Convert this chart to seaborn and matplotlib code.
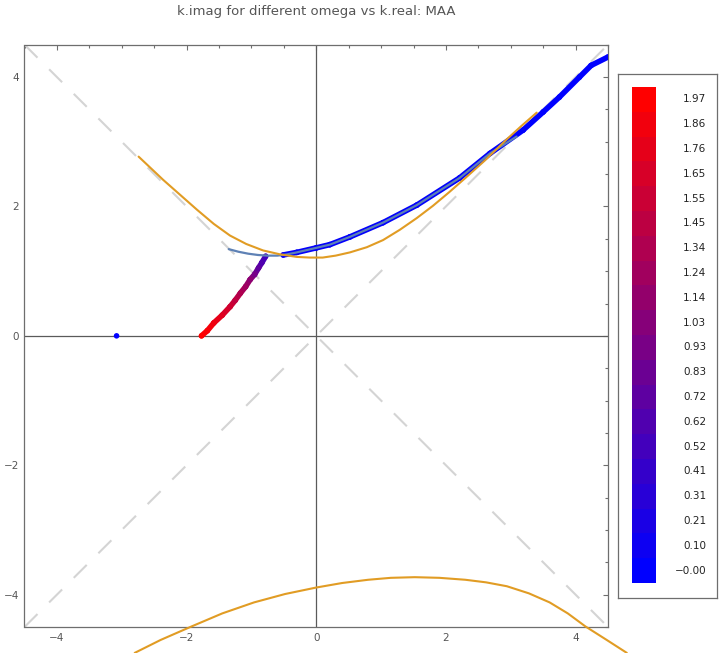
import numpy as np
import pandas as pd
import matplotlib
matplotlib.use("Agg")
import matplotlib.pyplot as plt
import seaborn as sns
from matplotlib.collections import LineCollection
from matplotlib.colors import LinearSegmentedColormap, ListedColormap, Normalize

# ---------------- data ----------------
title = "k.imag for different omega vs k.real: MAA"

# red -> blue branch of solutions (k.real, k.imag, omega)
red_kreal = [-1.77, -1.68, -1.58, -1.45, -1.33, -1.25, -1.17, -1.09, -1.02, -0.95, -0.89, -0.84, -0.78]
red_kimag = [0.00, 0.08, 0.20, 0.32, 0.45, 0.55, 0.66, 0.76, 0.87, 0.95, 1.05, 1.13, 1.23]
red_omega = [1.97, 1.92, 1.85, 1.73, 1.60, 1.48, 1.36, 1.23, 1.10, 0.92, 0.74, 0.62, 0.50]

# blue branch
blue_kreal = [-0.51, -0.30, 0.00, 0.21, 0.52, 1.03, 1.55, 2.21, 2.68, 3.19, 3.50, 3.75, 4.06, 4.24, 4.50]
blue_kimag = [1.25, 1.29, 1.36, 1.41, 1.53, 1.75, 2.02, 2.44, 2.82, 3.18, 3.46, 3.69, 4.00, 4.18, 4.31]
blue_omega = [0.05, 0.04, 0.03, 0.03, 0.02, 0.02, 0.02, 0.01, 0.01, 0.01, 0.0, 0.0, 0.0, 0.0, 0.0]

# isolated solution
iso_kreal = [-3.08]
iso_kimag = [0.00]
iso_omega = [0.0]

# steel-blue reference line
steel_kreal = [-1.35, -1.20, -1.05, -0.90, -0.75, -0.60, -0.45, -0.30, 0.00, 0.21, 0.52, 1.03, 1.55, 2.21, 2.68, 3.09]
steel_kimag = [1.34, 1.30, 1.27, 1.25, 1.24, 1.24, 1.26, 1.29, 1.36, 1.41, 1.53, 1.75, 2.02, 2.44, 2.82, 3.08]

# orange curves
upper_x = [-2.74, -2.55, -2.36, -2.10, -1.84, -1.58, -1.33, -1.08, -0.82, -0.56, -0.30, -0.10,
           0.10, 0.30, 0.52, 0.78, 1.03, 1.29, 1.55, 1.80, 2.05, 2.30, 2.60, 2.93, 3.16, 3.40]
upper_y = [2.77, 2.59, 2.41, 2.18, 1.95, 1.73, 1.55, 1.42, 1.32, 1.26, 1.22, 1.21,
           1.21, 1.24, 1.29, 1.37, 1.48, 1.64, 1.82, 2.01, 2.22, 2.44, 2.71, 3.03, 3.24, 3.45]
lower_x = [-2.80, -2.40, -1.92, -1.45, -0.96, -0.48, 0.00, 0.40, 0.80, 1.15, 1.52, 1.90, 2.30,
           2.62, 2.94, 3.28, 3.60, 3.88, 4.15, 4.48, 4.79]
lower_y = [-4.90, -4.70, -4.49, -4.29, -4.12, -3.99, -3.89, -3.82, -3.77, -3.74, -3.73, -3.74, -3.77,
           -3.81, -3.87, -3.98, -4.12, -4.29, -4.49, -4.70, -4.90]

# asymptote guides
diag_x = [-4.5, 4.5]

# colour-bar legend labels
cbar_labels = ["-0.00", "0.10", "0.21", "0.31", "0.41", "0.52", "0.62", "0.72", "0.83", "0.93",
               "1.03", "1.14", "1.24", "1.34", "1.45", "1.55", "1.65", "1.76", "1.86", "1.97"]
omega_max = 1.97

# ---------------- style ----------------
sns.set_theme(style="white")
plt.rcParams['font.family'] = ['DejaVu Sans']

W, H = 720, 653
fig = plt.figure(figsize=(W / 100, H / 100), dpi=100)
L, R, T, B = 24.5, 608.0, 44.7, 627.0
ax = fig.add_axes([L / W, 1 - B / H, (R - L) / W, (B - T) / H])

cmap = LinearSegmentedColormap.from_list("br", ["#0000ff", "#ff0000"])
norm = Normalize(0, omega_max)

# guides
ax.plot(diag_x, diag_x, color="#d4d4d4", lw=1.5, dashes=(8.8, 7.9), zorder=1)
ax.plot(diag_x, [-v for v in diag_x], color="#d4d4d4", lw=1.5, dashes=(8.8, 7.9), zorder=1)
ax.axhline(0, color="#5a5a5a", lw=0.9, zorder=1.5)
ax.axvline(0, color="#5a5a5a", lw=0.9, zorder=1.5)

# branches as thick bands coloured by omega
for xs, ys, om in [(red_kreal, red_kimag, red_omega), (blue_kreal, blue_kimag, blue_omega)]:
    pts = np.column_stack([xs, ys])
    segs = np.stack([pts[:-1], pts[1:]], axis=1)
    cols = cmap(norm((np.array(om[:-1]) + np.array(om[1:])) / 2))
    lc = LineCollection(segs, colors=cols, linewidths=4.0, capstyle="round", joinstyle="round", zorder=3)
    ax.add_collection(lc)

pts_df = pd.DataFrame({
    "kreal": red_kreal + blue_kreal + iso_kreal,
    "kimag": red_kimag + blue_kimag + iso_kimag,
    "omega": red_omega + blue_omega + iso_omega,
})
sns.scatterplot(data=pts_df, x="kreal", y="kimag", hue="omega", palette=cmap, hue_norm=norm,
                s=16, linewidth=0, legend=False, ax=ax, zorder=3.5)

steel_df = pd.DataFrame({"x": steel_kreal, "y": steel_kimag})
sns.lineplot(data=steel_df, x="x", y="y", sort=False, color="#5e81b5", lw=1.6, ax=ax, zorder=4)

up_df = pd.DataFrame({"x": upper_x, "y": upper_y})
lo_df = pd.DataFrame({"x": lower_x, "y": lower_y})
sns.lineplot(data=up_df, x="x", y="y", sort=False, color="#e19c24", lw=1.5, ax=ax, zorder=5)
sns.lineplot(data=lo_df, x="x", y="y", sort=False, color="#e19c24", lw=1.5, ax=ax, zorder=5)
ax.lines[-1].set_clip_on(False)

ax.set_xlim(-4.5, 4.5)
ax.set_ylim(-4.5, 4.5)
ax.set_xlabel("")
ax.set_ylabel("")
ax.set_xticks([-4, -2, 0, 2, 4])
ax.set_yticks([-4, -2, 0, 2, 4])
ax.set_xticks(np.arange(-4.5, 4.51, 0.5), minor=True)
ax.set_yticks(np.arange(-4.5, 4.51, 0.5), minor=True)
ax.tick_params(which="both", direction="in", top=True, right=True, color="#6e6e6e", width=0.8,
               labelsize=7.5, labelcolor="#555555")
ax.tick_params(which="major", length=3.4, pad=4)
ax.tick_params(which="minor", length=1.9)
for s in ax.spines.values():
    s.set_color("#6e6e6e")
    s.set_linewidth(0.9)
ax.set_facecolor("white")

fig.text((L + R) / 2 / W, 1 - 11 / H, title, ha="center", va="center", fontsize=9.5, color="#555555")

# colour-bar legend
leg = fig.add_axes([618 / W, 1 - 598 / H, 99 / W, 524 / H])
leg.set_xticks([])
leg.set_yticks([])
for s in leg.spines.values():
    s.set_color("#6e6e6e")
    s.set_linewidth(0.9)
leg.set_facecolor("white")

n = len(cbar_labels)
block_cols = ListedColormap([cmap(i / (n - 1)) for i in range(n)])
bar_top, bar_bot = 87.0, 583.0
bax = fig.add_axes([632 / W, 1 - bar_bot / H, 24 / W, (bar_bot - bar_top) / H])
bax.imshow(np.arange(n).reshape(n, 1), cmap=block_cols, origin="lower", aspect="auto",
           vmin=-0.5, vmax=n - 0.5, interpolation="nearest")
bax.axis("off")
bh = (bar_bot - bar_top) / n
for i, lab in enumerate(cbar_labels):
    yp = bar_bot - (i + 0.5) * bh
    fig.text(706 / W, 1 - yp / H, lab.replace("-", "\u2212"), ha="right", va="center",
             fontsize=7.5, color="#222222")

fig.savefig("out.png", dpi=100)
